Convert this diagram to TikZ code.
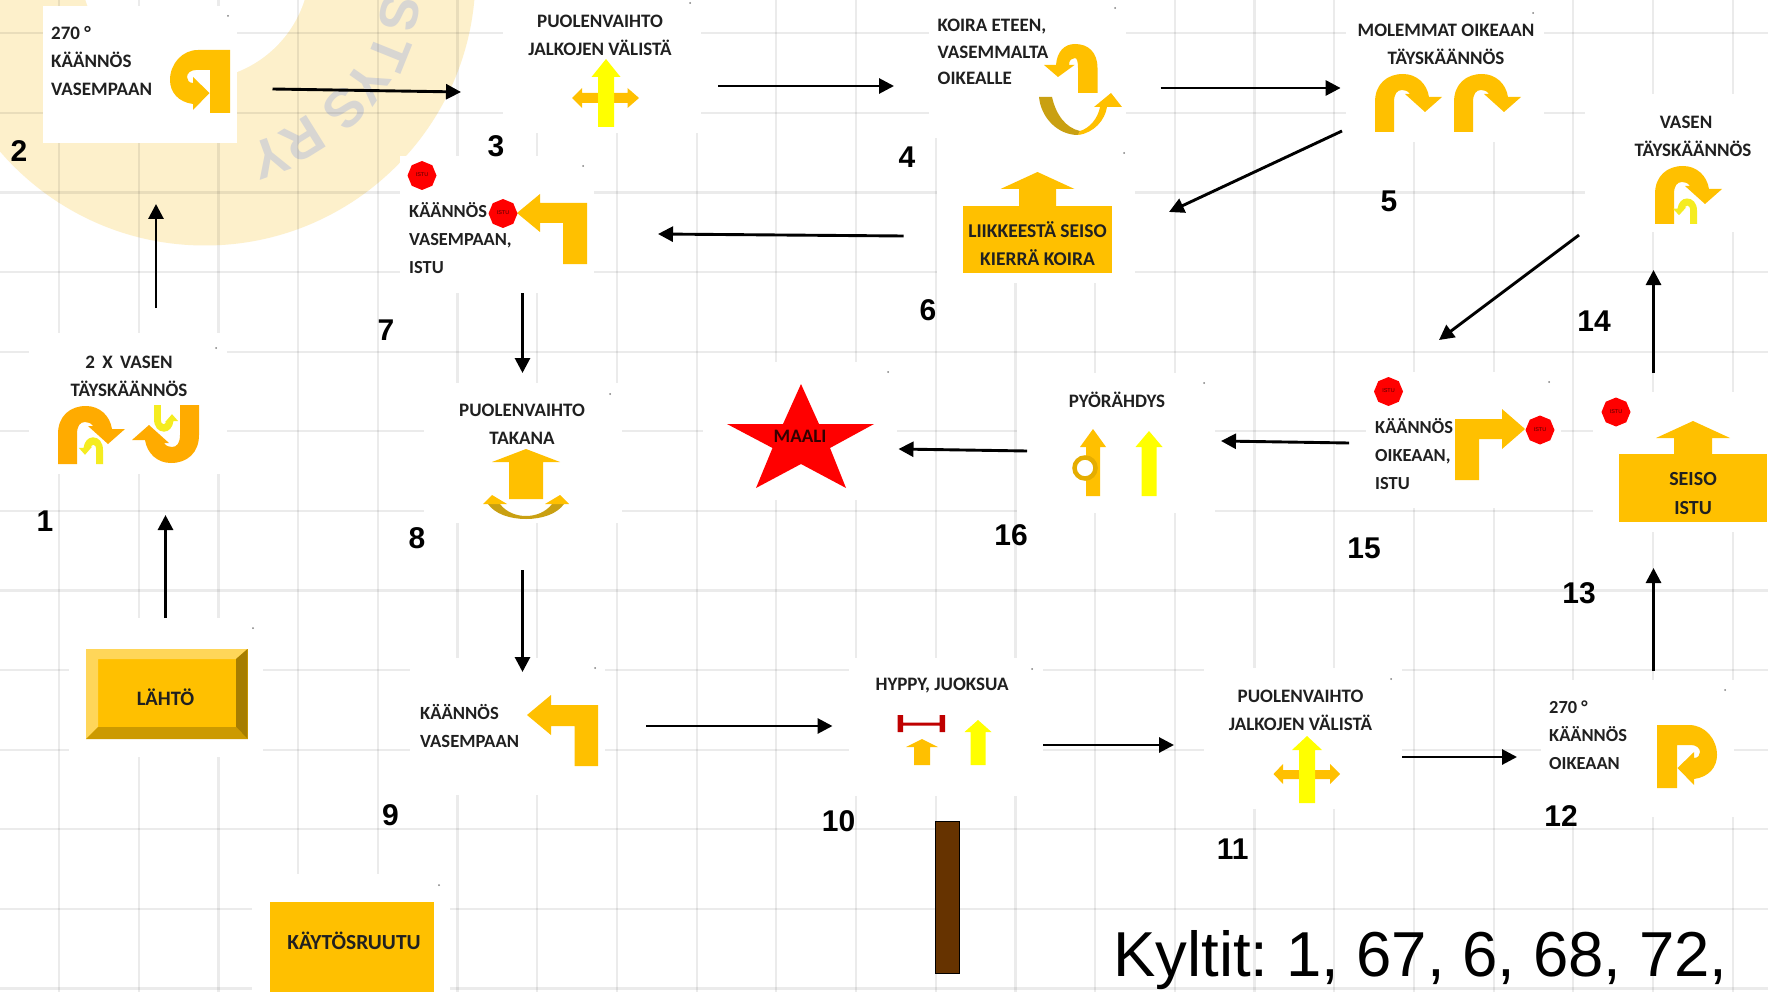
\documentclass[tikz,border=0pt]{standalone}
\usepackage{fontspec}
\setmainfont{Carlito}
\newfontfamily\arialf{Liberation Sans}
\usetikzlibrary{arrows.meta,shapes.geometric}
\definecolor{amber}{HTML}{FFC000}
\definecolor{deeporange}{HTML}{FFAB00}
\definecolor{yel}{HTML}{FFFF00}
\definecolor{yelsmall}{HTML}{F5EC20}
\definecolor{wmark}{HTML}{FDF0CB}
\definecolor{wmtext}{HTML}{D8D6D2}
\definecolor{goldd}{HTML}{C9A012}
\definecolor{inkc}{HTML}{202020}
\tikzset{
  panel/.style={rectangle,fill=white,draw=none,inner sep=0pt,outer sep=0pt},
  signl/.style={font=\bfseries\fontsize{19}{28}\selectfont,text=inkc,inner sep=0pt,align=left,anchor=west},
  signc/.style={font=\bfseries\fontsize{19}{28}\selectfont,text=inkc,inner sep=0pt,align=center},
  numlabel/.style={font=\arialf\bfseries\fontsize{30}{30}\selectfont,text=black,inner sep=0pt},
  wmletter/.style={font=\arialf\bfseries\fontsize{54}{54}\selectfont,text=wmtext,inner sep=0pt},
  stopsign/.style={regular polygon,regular polygon sides=8,shape border rotate=22.5,fill=red,draw=none,
    minimum size=29pt,inner sep=0pt,font=\arialf\fontsize{5.5}{6}\selectfont,text=black!70!red},
  conn/.style={line width=2.9pt,draw=black,-{Triangle[length=15pt,width=15pt]}},
  gridline/.style={draw=black,draw opacity=0.08,line width=2.2pt},
}
% panel: name, x0, y0, x1, y1
\newcommand{\panelbox}[5]{\node[panel,minimum width={(#4-#2)*1pt},minimum height={(#5-#3)*1pt}] (#1) at ({(#2+#4)/2},{(#3+#5)/2}) {};}
% U-turn: x, y, xscale, yscale, colour
\newcommand{\uturnshape}[5]{\begin{scope}[shift={(#1,#2)},xscale=#3,yscale=#4]
\fill[#5] (0,0) -- (0,-30) .. controls (0,-48) and (12,-58) .. (28,-58) .. controls (42,-58) and (52,-48) .. (54,-35)
 -- (67,-35) -- (50,-20) -- (30,-38) -- (35,-38) .. controls (33,-41) and (30,-42) .. (27,-42)
 .. controls (22,-42) and (19,-38) .. (19,-30) -- (19,0) -- cycle;
\end{scope}}
% 270 turn: x, y, xscale
\newcommand{\threeturn}[3]{\begin{scope}[shift={(#1,#2)},xscale=#3]
\fill[amber] (0,0) -- (32,0) .. controls (48,0) and (60,14) .. (60,30) .. controls (60,42) and (52,52) .. (37,54)
 -- (37,60) -- (20.5,43) -- (37,27) -- (37,33) .. controls (41,33) and (43,30) .. (43,27)
 .. controls (43,23) and (39,20) .. (34,20) -- (20,20) -- (20,63) -- (0,63) -- cycle;
\end{scope}}
% block arrow pointing up: cx, tip, base, bottom, half head, half shaft, colour
\newcommand{\blockup}[7]{\fill[#7] ({#1},{#2}) -- ({#1+#5},{#3}) -- ({#1+#6},{#3}) -- ({#1+#6},{#4}) -- ({#1-#6},{#4}) -- ({#1-#6},{#3}) -- ({#1-#5},{#3}) -- cycle;}
\begin{document}
\frenchspacing
\begin{tikzpicture}[x=1pt,y=-1pt]
\useasboundingbox (0,0) rectangle (1768,992);
\clip (0,0) rectangle (1768,992);
\fill[white] (0,0) rectangle (1768,992);
% watermark
\fill[wmark] (205,-25) circle (270.5);
\fill[white] (195,-35) circle (115);
\node[wmletter,rotate=-103] (wm1) at (400,13) {S};
\node[wmletter,rotate=-112] (wm2) at (390,53) {T};
\node[wmletter,rotate=-125] (wm3) at (367,83) {Y};
\node[wmletter,rotate=-135] (wm4) at (345,108) {S};
\node[wmletter,rotate=-148] (wm5) at (303,140) {R};
\node[wmletter,rotate=-160] (wm6) at (270,157) {Y};
% grid
\foreach \k in {0,...,21} {\draw[gridline] ({59+79.7*\k},0) -- ({59+79.7*\k},992);}
\foreach \k in {0,...,12} {\draw[gridline] (0,{33.3+79.6*\k}) -- (1768,{33.3+79.6*\k});}
% panels
\panelbox{n1}{29}{333}{227}{474}
\panelbox{n2}{43}{6}{237}{143}
\panelbox{n3}{503}{0}{701}{133}
\panelbox{n4}{929}{0}{1126}{138}
\panelbox{n5}{1346}{0}{1544}{142}
\panelbox{n6}{937}{138}{1135}{283}
\panelbox{n7}{400}{156}{594}{293}
\panelbox{n8}{424}{383}{622}{523}
\panelbox{n9}{410}{658}{605}{795}
\panelbox{n10}{849}{658}{1043}{796}
\panelbox{n11}{1204}{668}{1402}{809}
\panelbox{n12}{1541}{680}{1734}{817}
\panelbox{n13}{1593}{392}{1768}{532}
\panelbox{n14}{1585}{94}{1768}{232}
\panelbox{n15}{1366}{372}{1561}{508}
\panelbox{n16}{1017}{373}{1215}{513}
\panelbox{goal}{703}{362}{897}{500}
\panelbox{start}{69}{618}{263}{757}
\panelbox{legend}{252}{874}{450}{992}
% specks
\foreach \sx/\sy in {228/16,690/3,1115/8,1533/13,1124/153,583/166,216/348,610/394,253/628,595/668,439/885,1032/669,1391/679,1725/690,1549/382,1204/383,888/372}
  {\fill[gray] (\sx,\sy) circle (1);}
% 1
\uturnshape{58}{464}{1}{1}{deeporange}
\uturnshape{103}{464}{-0.36}{0.46}{yelsmall}
\uturnshape{199}{405}{-1}{-1}{deeporange}
\uturnshape{154}{405}{0.36}{-0.46}{yelsmall}
\node[signc] (t1) at (129,376) {2 \kern3pt X \kern3pt VASEN\\TÄYSKÄÄNNÖS};
% 2
\threeturn{230}{50}{-1}
\node[signl] (t2) at (51,61) {270 °\\KÄÄNNÖS\\VASEMPAAN};
% 3
\fill[amber] (572,98) -- (582,88) -- (582,93) -- (627.5,93) -- (627.5,88) -- (639,98) -- (627.5,108) -- (627.5,103) -- (582,103) -- (582,108) -- cycle;
\blockup{606}{59}{77}{127}{14.5}{8}{yel}
\node[signc] (t3) at (600,35) {PUOLENVAIHTO\\JALKOJEN VÄLISTÄ};
% 4
\fill[amber] (1097.5,93) -- (1097.5,68) .. controls (1097.5,52) and (1088,44) .. (1075,44) .. controls (1064,44) and (1057,52) .. (1056,65)
 -- (1044,65) -- (1058,77) -- (1074.5,65) -- (1069,65) .. controls (1069,60) and (1072,58) .. (1075,58)
 .. controls (1077,58) and (1078,62) .. (1078,68) -- (1078,93) -- cycle;
\fill[goldd] (1039,97) -- (1052,97) .. controls (1056,115) and (1066,128) .. (1080,131) -- (1078,135) .. controls (1058,135) and (1041,118) .. (1039,97) -- cycle;
\fill[amber] (1078,135) .. controls (1094,133) and (1105,120) .. (1107,107) -- (1122,107) -- (1111,93) -- (1094,107) -- (1100,107) .. controls (1098,118) and (1090,128) .. (1080,131) -- cycle;
\node[signl,font=\bfseries\fontsize{19}{26.5}\selectfont] (t4) at (937.5,52) {KOIRA ETEEN,\\VASEMMALTA\\OIKEALLE};
% 5
\uturnshape{1375}{132}{1}{1}{amber}
\uturnshape{1454}{132}{1}{1}{amber}
\node[signc] (t5) at (1446,44.5) {MOLEMMAT OIKEAAN\\TÄYSKÄÄNNÖS};
% 6
\fill[amber] (963,206) rectangle (1112,273);
\blockup{1037.5}{172}{189}{207}{37}{18.5}{amber}
\node[signc,font=\bfseries\fontsize{19.5}{28}\selectfont] (t6) at (1037.5,244) {LIIKKEESTÄ SEISO\\KIERRÄ KOIRA};
% 7
\fill[amber] (587,264) -- (587,203) -- (540,203) -- (540,194) -- (517,213) -- (540,232) -- (540,223) -- (563,223) -- (563,264) -- cycle;
\node[stopsign] (s7a) at (422,175.5) {\raisebox{1.5pt}{ISTU}};
\node[stopsign] (s7b) at (503,213.5) {\raisebox{1.5pt}{ISTU}};
\node[signl,font=\bfseries\fontsize{18.4}{28}\selectfont] (t7) at (409,238) {KÄÄNNÖS\\VASEMPAAN,\\ISTU};
% 8
\fill[goldd] (500,504) .. controls (506,512) and (516,516) .. (526,516) -- (526,519) .. controls (510,519) and (495,514) .. (488,504) -- cycle;
\fill[amber] (492,495) -- (507,504) -- (483,504) -- cycle;
\fill[goldd] (552,504) .. controls (546,512) and (536,516) .. (526,516) -- (526,519) .. controls (542,519) and (557,514) .. (564,504) -- cycle;
\fill[amber] (560,495) -- (569,504) -- (545,504) -- cycle;
\blockup{526}{449}{462}{499}{34}{17}{amber}
\node[signc] (t8) at (522,424.5) {PUOLENVAIHTO\\TAKANA};
% 9
\fill[amber] (598,766) -- (598,705) -- (551,705) -- (551,695) -- (527,715) -- (551,735) -- (551,726) -- (574.5,726) -- (574.5,766) -- cycle;
\node[signl,font=\bfseries\fontsize{18.6}{28}\selectfont] (t9) at (420,726) {KÄÄNNÖS\\VASEMPAAN};
% 10
\fill[red!75!black] (897.5,715) rectangle (903,732) (939.5,715) rectangle (945,732) (897.5,722.5) rectangle (945,725.5);
\blockup{922}{739}{747}{765}{16}{8}{amber}
\blockup{978}{720}{732}{765}{13.5}{7.5}{yel}
\node[signc] (t10) at (942,686) {HYPPY, JUOKSUA};
\draw[black,line width=1pt,fill={rgb,255:red,102;green,51;blue,0}] (935,821) rectangle (959,973);
% 11
\fill[amber] (1273.5,774) -- (1283,764) -- (1283,770) -- (1330,770) -- (1330,764) -- (1340,774) -- (1330,784) -- (1330,779) -- (1283,779) -- (1283,784) -- cycle;
\blockup{1307}{736}{750}{803}{15}{8}{yel}
\node[signc] (t11) at (1300.5,710.5) {PUOLENVAIHTO\\JALKOJEN VÄLISTÄ};
% 12
\threeturn{1657}{725}{1}
\node[signl,font=\bfseries\fontsize{18.4}{28}\selectfont] (t12) at (1549,735) {270 °\\KÄÄNNÖS\\OIKEAAN};
% 13
\fill[amber] (1619,454) rectangle (1767,522);
\blockup{1693}{421}{438}{455}{37}{19}{amber}
\node[stopsign] (s13) at (1616,412) {\raisebox{1.5pt}{ISTU}};
\node[signc,font=\bfseries\fontsize{20}{29}\selectfont] (t13) at (1693,493.5) {SEISO\\ISTU};
% 14
\uturnshape{1655}{224}{1}{1}{amber}
\uturnshape{1697}{224}{-0.36}{0.44}{yelsmall}
\node[signc] (t14) at (1693,136) {VASEN\hspace*{14pt}\\TÄYSKÄÄNNÖS};
% 15
\fill[amber] (1455,480) -- (1455,419) -- (1502,419) -- (1502,409) -- (1525,429) -- (1502,449) -- (1502,439) -- (1479,439) -- (1479,480) -- cycle;
\node[stopsign] (s15a) at (1388.5,391.5) {\raisebox{1.5pt}{ISTU}};
\node[stopsign] (s15b) at (1540,430) {\raisebox{1.5pt}{ISTU}};
\node[signl,font=\bfseries\fontsize{18.4}{28}\selectfont] (t15) at (1375,454.5) {KÄÄNNÖS\\OIKEAAN,\\ISTU};
% 16
\blockup{1093}{429}{447}{496}{13}{7}{amber}
\blockup{1149}{431}{447}{496}{13.5}{7.5}{yel}
\fill[white] (1085,468) circle (9);
\draw[amber!90!black,line width=4.5pt] (1085,468) circle (10.5);
\node[signc] (t16) at (1117,400) {PYÖRÄHDYS};
% goal star
\fill[red] (801,384) -- (819,424) -- (874,424) -- (830,448) -- (846,488) -- (801,464) -- (756,488) -- (772.5,448) -- (727,424) -- (783,424) -- cycle;
\node[signc,text=black!80!red] (t17) at (800,436) {MAALI};
% start
\fill[amber] (86,649) rectangle (247.5,739);
\fill[amber!65!white] (86,649) -- (247.5,649) -- (236,659) -- (98,659) -- (98,727) -- (86,739) -- cycle;
\fill[amber!65!black] (247.5,649) -- (247.5,739) -- (236,727) -- (236,659) -- cycle;
\fill[amber!80!black] (86,739) -- (247.5,739) -- (236,727) -- (98,727) -- cycle;
\node[signc,font=\bfseries\fontsize{20.5}{28}\selectfont] (t18) at (165.5,697) {LÄHTÖ};
% legend box
\fill[amber] (269.5,902) rectangle (434,992);
\node[signc,font=\bfseries\fontsize{21.5}{28}\selectfont] (t19) at (354,941) {KÄYTÖSRUUTU};
% numbers
\node[numlabel] (l1) at (45,521) {1};
\node[numlabel] (l2) at (19,151) {2};
\node[numlabel] (l3) at (496,146) {3};
\node[numlabel] (l4) at (907,157) {4};
\node[numlabel] (l5) at (1389,201) {5};
\node[numlabel] (l6) at (928,310) {6};
\node[numlabel] (l7) at (386,330) {7};
\node[numlabel] (l8) at (417,538) {8};
\node[numlabel] (l9) at (390.5,815) {9};
\node[numlabel] (l10) at (838.6,821) {10};
\node[numlabel] (l11) at (1232.6,849) {11};
\node[numlabel] (l12) at (1561,816) {12};
\node[numlabel] (l13) at (1579,593) {13};
\node[numlabel] (l14) at (1594,321) {14};
\node[numlabel] (l15) at (1364,548) {15};
\node[numlabel] (l16) at (1011,535) {16};
% bottom text
\node[anchor=base west,inner sep=0pt,font=\arialf\fontsize{63.5}{63.5}\selectfont,text=black] (kyltit) at (1113,976) {Kyltit: 1, 67, 6, 68, 72,};
% connector ends
\coordinate (c0a) at (165.5,618); \coordinate (c0b) at (165.5,515);
\coordinate (c1a) at (156,308);   \coordinate (c1b) at (156,204);
\coordinate (c2a) at (272.5,89);  \coordinate (c2b) at (461,92);
\coordinate (c3a) at (718,86);    \coordinate (c3b) at (894,86);
\coordinate (c4a) at (1160.6,88); \coordinate (c4b) at (1340.6,88);
\coordinate (c5a) at (1342,131);  \coordinate (c5b) at (1169,212);
\coordinate (c6a) at (903.5,236); \coordinate (c6b) at (658,234);
\coordinate (c7a) at (522.5,293); \coordinate (c7b) at (522.5,373);
\coordinate (c8a) at (522.5,570); \coordinate (c8b) at (522.5,672);
\coordinate (c9a) at (646,726);   \coordinate (c9b) at (832.5,726);
\coordinate (c10a) at (1043,745); \coordinate (c10b) at (1174,745);
\coordinate (c11a) at (1402,757); \coordinate (c11b) at (1517,757);
\coordinate (c12a) at (1653.5,671); \coordinate (c12b) at (1653.5,568);
\coordinate (c13a) at (1653.5,373); \coordinate (c13b) at (1653.5,270);
\coordinate (c14a) at (1579,235); \coordinate (c14b) at (1439,340);
\coordinate (c15a) at (1349,443); \coordinate (c15b) at (1221,441);
\coordinate (c16a) at (1027,451); \coordinate (c16b) at (898.5,449);
\foreach \k in {0,...,16} {\draw[conn] (c\k a) -- (c\k b);}
\end{tikzpicture}
\end{document}
